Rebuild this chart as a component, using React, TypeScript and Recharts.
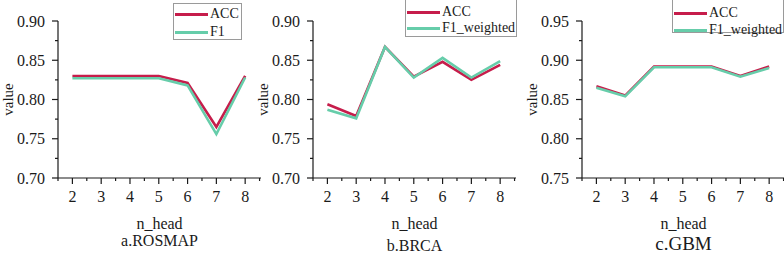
import { Legend, Line, LineChart, XAxis, YAxis } from 'recharts';

const heads = [2, 3, 4, 5, 6, 7, 8];

const rosmapAcc = [0.83, 0.83, 0.83, 0.83, 0.821, 0.765, 0.83];
const rosmapF1 = [0.827, 0.827, 0.827, 0.827, 0.818, 0.756, 0.828];

const brcaAcc = [0.794, 0.779, 0.867, 0.829, 0.848, 0.825, 0.844];
const brcaF1 = [0.787, 0.776, 0.867, 0.828, 0.853, 0.828, 0.849];

const gbmAcc = [0.867, 0.855, 0.892, 0.892, 0.892, 0.88, 0.892];
const gbmF1 = [0.865, 0.854, 0.891, 0.891, 0.891, 0.879, 0.89];

const xTicks = [1.5, 2, 2.5, 3, 3.5, 4, 4.5, 5, 5.5, 6, 6.5, 7, 7.5, 8, 8.5];
const yTicksLow = [0.7, 0.725, 0.75, 0.775, 0.8, 0.825, 0.85, 0.875, 0.9];
const yTicksHigh = [0.75, 0.775, 0.8, 0.825, 0.85, 0.875, 0.9, 0.925, 0.95];

const ACC_COLOR = '#c61d4b';
const F1_COLOR = '#66cdaa';
const FONT = '"Liberation Serif", "Times New Roman", serif';
const INK = '#1a1a1a';

function XTick({ x, y, payload }: any) {
  const major = Number.isInteger(payload.value);
  return (
    <g>
      <line x1={x} x2={x} y1={y} y2={y + (major ? 6 : 3)} stroke={INK} strokeWidth={1.2} />
      {major && (
        <text x={x} y={y + 24} textAnchor="middle" style={{ fontFamily: FONT, fontSize: 16 }} fill={INK}>
          {payload.value}
        </text>
      )}
    </g>
  );
}

function YTick({ x, y, payload }: any) {
  const major = Math.round(payload.value * 1000) % 50 === 0;
  return (
    <g>
      <line x1={x - (major ? 6 : 3)} x2={x} y1={y} y2={y} stroke={INK} strokeWidth={1.2} />
      {major && (
        <text x={x - 13} y={y + 5.5} textAnchor="end" style={{ fontFamily: FONT, fontSize: 16 }} fill={INK}>
          {payload.value.toFixed(2)}
        </text>
      )}
    </g>
  );
}

type PanelProps = {
  left: number;
  acc: number[];
  f1: number[];
  f1Name: string;
  yDomain: [number, number];
  yTicks: number[];
  legendBox: { left: number; top: number; width: number; height: number; gap: number; first: number };
  caption: string;
  captionSize: number;
  captionY: number;
};

function Panel({ left, acc, f1, f1Name, yDomain, yTicks, legendBox, caption, captionSize, captionY }: PanelProps) {
  const data = heads.map((h, i) => ({ head: h, acc: acc[i], f1: f1[i] }));
  const items = [
    { name: 'ACC', color: ACC_COLOR },
    { name: f1Name, color: F1_COLOR },
  ];
  return (
    <div style={{ position: 'absolute', left, top: 0, width: 264, height: 253 }}>
      <LineChart width={264} height={253} data={data} margin={{ top: 21, right: 3, bottom: 0, left: 0 }}>
        <XAxis
          dataKey="head"
          type="number"
          domain={[1.5, 8.55]}
          ticks={xTicks}
          interval={0}
          height={75}
          tickSize={0}
          tickMargin={0}
          tickLine={false}
          tick={<XTick />}
          axisLine={{ stroke: INK, strokeWidth: 1.2 }}
          allowDataOverflow
        />
        <YAxis
          type="number"
          domain={yDomain}
          ticks={yTicks}
          interval={0}
          width={58}
          tickSize={0}
          tickMargin={0}
          tickLine={false}
          tick={<YTick />}
          axisLine={{ stroke: INK, strokeWidth: 1.2 }}
          allowDataOverflow
        />
        <Legend
          layout="vertical"
          align="center"
          verticalAlign="middle"
          wrapperStyle={{ left: legendBox.left, top: legendBox.top, width: legendBox.width, height: legendBox.height }}
          content={() => (
            <div
              style={{
                position: 'relative',
                width: legendBox.width,
                height: legendBox.height,
                boxSizing: 'border-box',
                border: '1px solid #9a9a9a',
                background: '#fff',
                fontFamily: FONT,
                fontSize: 14,
                color: INK,
              }}
            >
              {items.map((it, i) => (
                <div
                  key={it.name}
                  style={{
                    position: 'absolute',
                    left: 1,
                    top: legendBox.first + i * legendBox.gap - 8,
                    width: legendBox.width - 3,
                    height: 16,
                    display: 'flex',
                    alignItems: 'center',
                    whiteSpace: 'nowrap',
                  }}
                >
                  <span style={{ display: 'inline-block', flexShrink: 0, width: 33, height: 3, background: it.color }} />
                  <span style={{ marginLeft: 2, lineHeight: '16px' }}>{it.name}</span>
                </div>
              ))}
            </div>
          )}
        />
        <Line dataKey="acc" type="linear" stroke={ACC_COLOR} strokeWidth={2.6} dot={false} isAnimationActive={false} />
        <Line dataKey="f1" type="linear" stroke={F1_COLOR} strokeWidth={2.6} dot={false} isAnimationActive={false} />
      </LineChart>
      <svg width={264} height={253} style={{ position: 'absolute', left: 0, top: 0, pointerEvents: 'none' }}>
        <text
          x={13}
          y={99.5}
          transform="rotate(-90 13 99.5)"
          textAnchor="middle"
          style={{ fontFamily: FONT, fontSize: 15 }}
          fill={INK}
        >
          value
        </text>
        <text x={159.5} y={229} textAnchor="middle" style={{ fontFamily: FONT, fontSize: 16 }} fill={INK}>
          n_head
        </text>
        <text x={159.5} y={captionY} textAnchor="middle" style={{ fontFamily: FONT, fontSize: captionSize }} fill={INK}>
          {caption}
        </text>
      </svg>
    </div>
  );
}

export default function App() {
  return (
    <div style={{ position: 'absolute', left: 0, top: 0, width: 784, height: 253, overflow: 'hidden', background: '#fff' }}>
      <Panel
        left={0}
        acc={rosmapAcc}
        f1={rosmapF1}
        f1Name="F1"
        yDomain={[0.7, 0.9]}
        yTicks={yTicksLow}
        legendBox={{ left: 173, top: 3, width: 69, height: 37, gap: 18, first: 10 }}
        caption="a.ROSMAP"
        captionSize={16}
        captionY={246}
      />
      <Panel
        left={255}
        acc={brcaAcc}
        f1={brcaF1}
        f1Name="F1_weighted"
        yDomain={[0.7, 0.9]}
        yTicks={yTicksLow}
        legendBox={{ left: 150, top: -1, width: 112, height: 38, gap: 16, first: 12 }}
        caption="b.BRCA"
        captionSize={16}
        captionY={251}
      />
      <Panel
        left={524}
        acc={gbmAcc}
        f1={gbmF1}
        f1Name="F1_weighted"
        yDomain={[0.75, 0.95]}
        yTicks={yTicksHigh}
        legendBox={{ left: 148, top: -1, width: 112, height: 34, gap: 17, first: 13 }}
        caption="c.GBM"
        captionSize={19}
        captionY={250}
      />
    </div>
  );
}
